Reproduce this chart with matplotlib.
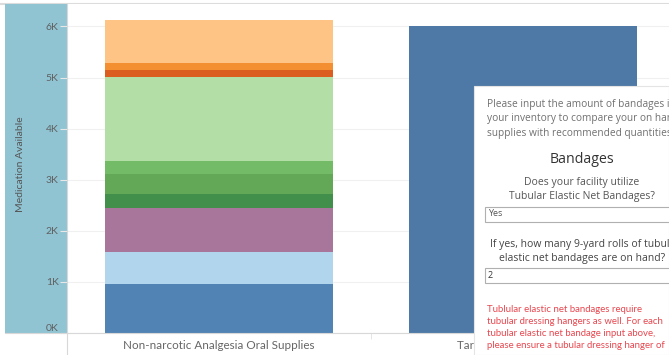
import numpy as np
import matplotlib.pyplot as plt
from matplotlib.patches import Rectangle

# Data

categories = ["Non-narcotic Analgesia Oral Supplies", "Target Analgesia Supplies"]

# stacked segments of the first bar, bottom to top
segment_values = [957, 623, 860, 280, 390, 260, 1640, 130, 140, 850]
segment_colors = ["#5183b4", "#b0d5ec", "#a8769a", "#428f4c", "#62a857",
                  "#74bb67", "#b3dfa6", "#dc5d20", "#f48f31", "#fec486"]
target_value = 6000

y_ticks = [0, 1000, 2000, 3000, 4000, 5000, 6000]
y_tick_labels = ["0K", "1K", "2K", "3K", "4K", "5K", "6K"]

W, H = 669, 355


def px(x, y):
    # pixel position -> figure fraction
    return x / W, 1 - y / H


# Figure

fig = plt.figure(figsize=(W / 100, H / 100), dpi=100)
plt.rcParams['font.family'] = ['Lato', 'DejaVu Sans']

# top border line
fig.add_artist(plt.Line2D([0, 1], [1 - 4 / H] * 2, color="#dcdcdc", lw=1.5, zorder=-1))

# left axis panel (behind the axes so the tick labels stay visible)
x0, y0 = px(5, 333)
fig.add_artist(Rectangle((x0, y0), 62 / W, 329 / H, color="#90c4d3", lw=0, zorder=-1))

ax = fig.add_axes([67 / W, 22 / H, (W - 67) / W, (333 - 4) / H])
ax.set_xlim(-0.5, 1.48)
ax.set_ylim(0, 6440)

bottom = 0
for val, col in zip(segment_values, segment_colors):
    ax.bar(0, val, bottom=bottom, width=0.75, color=col, zorder=2)
    bottom += val
ax.bar(1, target_value, width=0.75, color="#4e79a6", zorder=2)

ax.set_yticks(y_ticks)
ax.set_yticklabels(y_tick_labels)
ax.tick_params(axis="y", colors="#e8e8e8", labelcolor="#606060",
               labelsize=7.5, length=5, width=0.8, pad=1)
# the zero label sits just above the baseline, as in the original
ax.get_yticklabels()[0].set_verticalalignment("bottom")
ax.set_xticks([0, 1])
ax.set_xticklabels(categories)
ax.tick_params(axis="x", length=0, labelcolor="#666666", labelsize=8.4, pad=5)
ax.set_xticks([0.5], minor=True)
ax.tick_params(axis="x", which="minor", length=4, color="#e0e0e0")
ax.grid(axis="y", color="#f0f0f0", lw=0.8, zorder=0)

for s in ["top", "right"]:
    ax.spines[s].set_visible(False)
ax.spines["left"].set_color("#d8d8d8")
ax.spines["bottom"].set_color("#d8d8d8")

fig.text(*px(21, 164), "Medication Available", rotation=90,
         ha="center", va="center", fontsize=7.5, color="#555555")

# left line continues below the axis
fig.add_artist(plt.Line2D([67 / W] * 2, [0, 22 / H], color="#d8d8d8", lw=0.8))
fig.add_artist(plt.Line2D([5 / W, 67 / W], [22 / H] * 2, color="#d8d8d8", lw=0.8))

# Overlay input panel

fx, fy = px(474, 355)
fig.add_artist(Rectangle((fx, fy), (W - 474) / W, (355 - 86) / H,
                         facecolor="white", edgecolor="#e4e4e4", lw=0.8, zorder=5))

grey = "#707070"
ofont = ['Open Sans', 'DejaVu Sans']
intro = ["Please input the amount of bandages in",
         "your inventory to compare your on hand",
         "supplies with recommended quantities."]
for i, line in enumerate(intro):
    fig.text(*px(487, 104 + 15 * i), line, fontsize=7.3, color=grey,
             va="center", family=ofont, zorder=6)

fig.text(*px(582, 159), "Bandages", fontsize=10.2, color="#333333",
         ha="center", va="center", family=ofont, zorder=6)
fig.text(*px(582, 182), "Does your facility utilize", fontsize=7.5,
         color="#555555", ha="center", va="center", family=ofont, zorder=6)
fig.text(*px(582, 197), "Tubular Elastic Net Bandages?", fontsize=7.5,
         color="#555555", ha="center", va="center", family=ofont, zorder=6)

bx, by = px(485, 222)
fig.add_artist(Rectangle((bx, by), 200 / W, 15 / H, facecolor="white",
                         edgecolor="#b0b0b0", lw=0.8, zorder=6))
fig.text(*px(488, 214), "Yes", fontsize=6.5, color="#555555", va="center",
         family=ofont, zorder=7)

fig.text(*px(490, 244), "If yes, how many 9-yard rolls of tubular",
         fontsize=7.5, color="#444444", va="center", family=ofont, zorder=6)
fig.text(*px(582, 259), "elastic net bandages are on hand?",
         fontsize=7.5, color="#444444", ha="center", va="center",
         family=ofont, zorder=6)

bx, by = px(485, 283)
fig.add_artist(Rectangle((bx, by), 200 / W, 15 / H, facecolor="white",
                         edgecolor="#b0b0b0", lw=0.8, zorder=6))
fig.text(*px(488, 276), "2", fontsize=6.5, color="#333333", va="center",
         family=ofont, zorder=7)

warning = ["Tublular elastic net bandages require",
           "tubular dressing hangers as well. For each",
           "tubular elastic net bandage input above,",
           "please ensure a tubular dressing hanger of"]
for i, line in enumerate(warning):
    fig.text(*px(487, 310 + 12 * i), line, fontsize=6.9, color="#e8474f",
             va="center", zorder=6)

fig.savefig("out.png", dpi=100)
